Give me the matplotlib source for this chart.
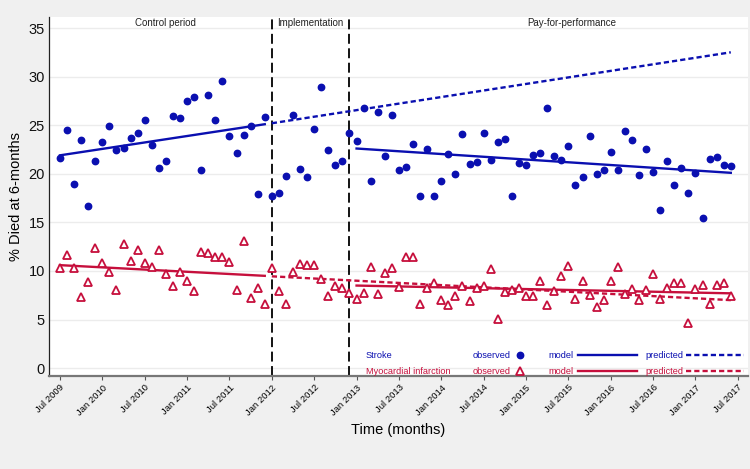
import matplotlib
matplotlib.use("Agg")
import matplotlib.pyplot as plt
import numpy as np

plt.rcParams['font.family'] = ['Liberation Sans', 'DejaVu Sans']

# ---- data (month index 0 = Jul 2009) ----
stroke_obs = [21.6, 24.5, 18.9, 23.5, 16.7, 21.3, 23.3, 24.9, 22.4, 22.7,
              23.7, 24.2, 25.5, 23.0, 20.6, 21.3, 25.9, 25.7, 27.5, 27.9,
              20.4, 28.1, 25.5, 29.5, 23.9, 22.1, 24.0, 24.9, 17.9, 25.8,
              17.7, 18.0, 19.8, 26.1, 20.5, 19.7, 24.6, 28.9, 22.4, 20.9,
              21.3, 24.2, 23.4, 26.8, 19.3, 26.4, 21.8, 26.0, 20.4, 20.7,
              23.1, 17.7, 22.5, 17.7, 19.3, 22.0, 20.0, 24.1, 21.0, 21.2,
              24.2, 21.4, 23.3, 23.6, 17.7, 21.1, 20.9, 21.9, 22.1, 26.8,
              21.8, 21.4, 22.9, 18.8, 19.7, 23.9, 20.0, 20.4, 22.2, 20.4,
              24.4, 23.5, 19.9, 22.6, 20.2, 16.3, 21.3, 18.8, 20.6, 18.0,
              20.1, 15.5, 21.5, 21.7, 20.9, 20.8]
mi_obs = [10.3, 11.6, 10.3, 7.3, 8.9, 12.4, 10.8, 9.85, 8.06, 12.8,
          11.0, 12.2, 10.8, 10.4, 12.2, 9.7, 8.5, 9.9, 9.0, 7.9,
          12.0, 11.8, 11.4, 11.4, 10.9, 8.06, 13.1, 7.2, 8.3, 6.6,
          10.3, 7.9, 6.6, 9.9, 10.7, 10.6, 10.6, 9.2, 7.4, 8.5,
          8.3, 7.75, 7.07, 7.75, 10.4, 7.6, 9.75, 10.3, 8.4, 11.4,
          11.4, 6.6, 8.2, 8.75, 7.0, 6.5, 7.4, 8.45, 6.9, 8.3,
          8.5, 10.2, 5.1, 7.8, 8.0, 8.3, 7.4, 7.4, 9.0, 6.5,
          7.96, 9.5, 10.5, 7.1, 9.0, 7.55, 6.3, 7.0, 9.0, 10.4,
          7.6, 8.1, 7.0, 8.06, 9.7, 7.07, 8.3, 8.8, 8.8, 4.6,
          8.1, 8.6, 6.6, 8.6, 8.8, 7.4]
months = np.arange(len(stroke_obs))

# model segments: (start month, end month) and (start value, end value)
pre_x = [0, 29]
pred_x = [30, 95]
post_x = [42, 95]
stroke_pre = [21.9, 25.1]
stroke_pred = [25.2, 32.5]
stroke_post = [22.6, 20.1]
mi_pre = [10.6, 9.5]
mi_pred = [9.45, 7.0]
mi_post = [8.5, 7.7]

period_lines = [30, 41]
period_labels = ["Control period", "Implementation", "Pay-for-performance"]
period_label_x = [15.0, 35.4, 72.5]

tick_pos = list(range(0, 97, 6))
tick_labels = ["Jul 2009", "Jan 2010", "Jul 2010", "Jan 2011", "Jul 2011",
               "Jan 2012", "Jul 2012", "Jan 2013", "Jul 2013", "Jan 2014",
               "Jul 2014", "Jan 2015", "Jul 2015", "Jan 2016", "Jul 2016",
               "Jan 2017", "Jul 2017"]

BLUE = "#0a0fb0"
RED = "#c60f3c"

fig = plt.figure(figsize=(7.5, 4.69), dpi=100, facecolor="#f0f0f0")
ax = fig.add_axes([0.0653, 0.198, 0.9317, 0.7657])
ax.set_facecolor("white")

ax.set_xlim(-1.56, 97.4)
ax.set_ylim(-0.82, 36.13)

for v in range(0, 36, 5):
    ax.axhline(v, color="#ececec", lw=1.0, zorder=0)

for xv in period_lines:
    ax.axvline(xv, color="black", lw=1.3, ls=(0, (5.5, 2.5)), zorder=2)

# stroke
ax.plot(months, stroke_obs, ls="none", marker="o", ms=4.6, color=BLUE,
        mec=BLUE, zorder=4)
ax.plot(pre_x, stroke_pre, color=BLUE, lw=1.7, zorder=3)
ax.plot(post_x, stroke_post, color=BLUE, lw=1.7, zorder=3)
ax.plot(pred_x, stroke_pred, color=BLUE, lw=1.7, ls=(0, (2.2, 1.3)), zorder=3)

# MI
ax.plot(months, mi_obs, ls="none", marker="^", ms=5.2, mfc="white",
        mec=RED, mew=1.3, zorder=4)
ax.plot(pre_x, mi_pre, color=RED, lw=1.7, zorder=3)
ax.plot(post_x, mi_post, color=RED, lw=1.7, zorder=3)
ax.plot(pred_x, mi_pred, color=RED, lw=1.7, ls=(0, (2.2, 1.3)), zorder=3)

for lab, xv in zip(period_labels, period_label_x):
    ax.text(xv, 35.55, lab, ha="center", va="center", fontsize=7, color="#222222")

# axes styling
for s in ["top", "right"]:
    ax.spines[s].set_visible(False)
ax.spines["left"].set_color("#222222")
ax.spines["left"].set_linewidth(0.9)
ax.spines["bottom"].set_color("#777777")
ax.spines["bottom"].set_linewidth(1.6)

ax.set_yticks(range(0, 36, 5))
ax.tick_params(axis="y", length=0, pad=3, labelsize=10.5, labelcolor="#111111")
ax.set_xticks(tick_pos)
ax.set_xticklabels(tick_labels, rotation=45, ha="right", rotation_mode="anchor",
                   fontsize=6.8)
ax.tick_params(axis="x", length=3, color="#555555", pad=2)

ax.set_ylabel("% Died at 6-months", fontsize=10.5, labelpad=4)
ax.set_xlabel("Time (months)", fontsize=10.5, labelpad=4)

# custom legend (axes coords)
tr = ax.transAxes
rows = [(0.058, "Stroke", BLUE, dict(marker="o", ms=4.6, color=BLUE)),
        (0.013, "Myocardial infarction", RED,
         dict(marker="^", ms=5.2, mfc="white", mec=RED, mew=1.3))]
for y, name, col, mk in rows:
    ax.text(0.453, y, name, color=col, fontsize=6.6, transform=tr, va="center")
    ax.text(0.606, y, "observed", color=col, fontsize=6.6, transform=tr, va="center")
    ax.plot([0.674], [y], ls="none", transform=tr, clip_on=False, zorder=5, **mk)
    ax.text(0.715, y, "model", color=col, fontsize=6.6, transform=tr, va="center")
    ax.plot([0.757, 0.841], [y, y], color=col, lw=1.7, transform=tr, clip_on=False)
    ax.text(0.853, y, "predicted", color=col, fontsize=6.6, transform=tr, va="center")
    ax.plot([0.912, 0.995], [y, y], color=col, lw=1.7, ls=(0, (2.2, 1.3)),
            transform=tr, clip_on=False)

fig.savefig("out.png", dpi=100, facecolor=fig.get_facecolor())
